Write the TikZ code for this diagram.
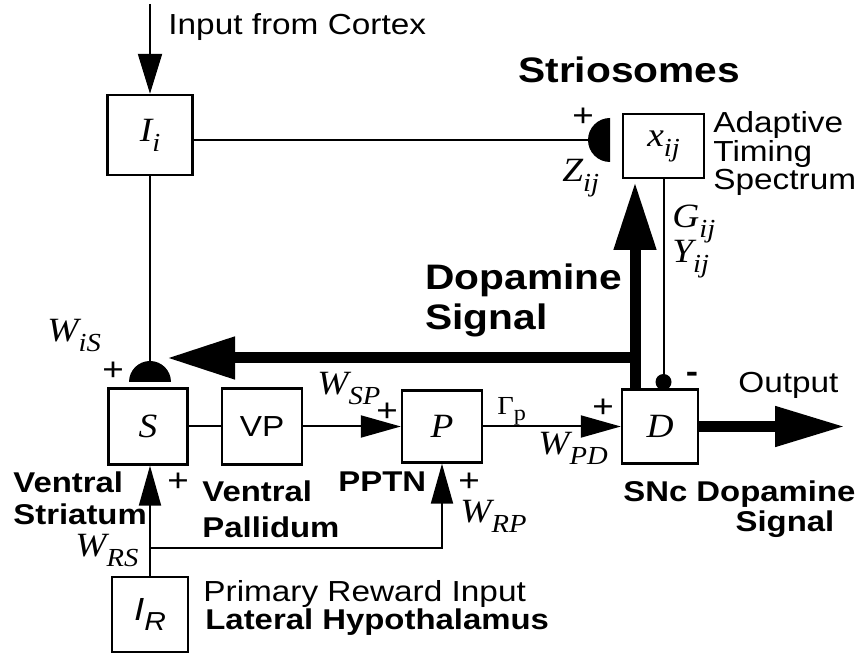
\documentclass[tikz,border=0pt]{standalone}
\usepackage{fontspec}
\setmainfont{Liberation Sans}[FakeStretch=1.15]
\newfontfamily\lsymfont{Liberation Serif}[FakeStretch=1.1]
\usetikzlibrary{arrows.meta,positioning}
\newcommand{\subs}[1]{\raisebox{-5pt}{\fontsize{13}{13}\selectfont #1}}
\tikzset{
  blk/.style   = {draw, line width=1.2pt, inner sep=0pt,
                  minimum width=40pt, minimum height=38pt,
                  font=\lsymfont\itshape\fontsize{17}{17}\selectfont},
  symb/.style  = {inner sep=0pt, anchor=base west,
                  font=\lsymfont\itshape\fontsize{17}{17}\selectfont},
  lbl/.style   = {inner sep=0pt, anchor=base west, align=left,
                  font=\fontsize{14.5}{14.25}\selectfont},
  lblb/.style  = {lbl, font=\bfseries\fontsize{14.3}{16}\selectfont},
  lblbig/.style= {lbl, font=\bfseries\fontsize{17.7}{20}\selectfont},
  sign/.style  = {inner sep=0pt, font=\fontsize{16}{16}\selectfont},
  dot/.style   = {circle, fill, minimum size=8pt, inner sep=0pt},
  %
  wire/.style  = {line width=1pt},
  flow/.style  = {-{Triangle[length=20pt,width=11pt]}, line width=1pt},
  fat/.style   = {-{Triangle[length=34pt,width=20pt]}, line width=5.5pt},
}
\begin{document}
\begin{tikzpicture}[x=0.5pt, y=-0.5pt]
  \useasboundingbox (0,0) rectangle (863,657);

  % ---------- boxes -----------------------------------------------------
  \node[blk, minimum width=42.5pt, minimum height=40pt] (Ii) at (150,135) {I\subs{i}};
  \node[blk, minimum width=40.5pt, minimum height=32pt] (xij) at (663.5,146) {x\subs{ij}};
  \node[blk, minimum width=39.5pt] (S) at (148,426.5) {S};
  \node[blk, font=\fontsize{14.5}{14.5}\selectfont] (VP) at (262,426.5) {VP};
  \node[blk, minimum height=36pt] (P) at (442,426.5) {P};
  \node[blk, minimum width=38pt, minimum height=37pt] (D) at (660,426.5) {D};
  \node[blk, minimum width=38pt, minimum height=37.5pt,
        font=\itshape\fontsize{16}{16}\selectfont] (IR) at (150,614.5) {I\subs{R}};

  % ---------- junctions ------------------------------------------------
  \coordinate (ctx)    at (150,4);
  \coordinate (zsyn)   at (610,140);
  \coordinate (ssyn)   at (150,382);
  \coordinate (dsplit) at (635,358);
  \coordinate (dtip)   at (167,358);
  \coordinate (xtip)   at (635,182);
  \coordinate (outtip) at (845,426.5);
  \coordinate (rsplit) at (150,548);
  \node[dot] (ddot) at (663.5,382) {};

  % ---------- thin connectors ------------------------------------------
  \draw[flow, -{Triangle[length=20pt,width=12pt]}] (ctx) -- (Ii.north);
  \draw[wire] (Ii.east |- zsyn) -- (zsyn);
  \fill ([yshift=11pt]zsyn) arc[start angle=90, end angle=270, radius=11pt] -- cycle;
  \draw[wire] (Ii.south) -- (ssyn);
  \fill ([xshift=10.5pt]ssyn) arc[start angle=0, end angle=180, radius=10.5pt] -- cycle;
  \draw[wire] (xij.south) -- (ddot);
  \draw[wire] (S) -- (VP);
  \draw[flow] (VP) -- (P);
  \draw[flow] (P) -- (D);
  \draw[flow] (IR.north) -- (IR.north |- S.south);
  \draw[flow] (rsplit) -| (P.south);

  % ---------- dopamine signal ------------------------------------------
  \draw[fat] (D.north -| dsplit) -- (xtip);
  \draw[fat] (dsplit) -- (dtip);
  \draw[fat, -{Triangle[length=35pt,width=19pt]}] (D) -- (outtip);

  % ---------- labels ---------------------------------------------------
  \node[lbl]    (cortex) at (168,35)  {Input from Cortex};
  \node[lblbig] (strio)  at (518,83)  {Striosomes};
  \node[lbl]    (ats)    at (713,190) {Adaptive\\Timing\\Spectrum};
  \node[lblbig] (dasig)  at (425,330) {Dopamine\\Signal};
  \node[lbl]    (outlbl) at (738,393) {Output};
  \node[lblb]   (snc)    at (623,502) {SNc Dopamine};
  \node[lblb, anchor=base] (sncsig) at (785,532) {Signal};
  \node[lblb]   (vstr)   at (13,525)  {Ventral\\Striatum};
  \node[lblb, font=\bfseries\fontsize{14.3}{18}\selectfont]
                (vpal)   at (202,538) {Ventral\\Pallidum};
  \node[lblb]   (pptn)   at (338,492) {PPTN};
  \node[lbl]    (prim)   at (203,602) {Primary Reward Input};
  \node[lblb]   (lath)   at (205,630) {Lateral Hypothalamus};

  % ---------- weights --------------------------------------------------
  \node[symb] (wis) at (47,342)  {W\subs{iS}};
  \node[symb] (wrs) at (75,557)  {W\subs{RS}};
  \node[symb] (wsp) at (317,395) {W\subs{SP}};
  \node[symb] (wpd) at (538,455) {W\subs{PD}};
  \node[symb] (wrp) at (460,523) {W\subs{RP}};
  \node[symb] (zij) at (562,182) {Z\subs{ij}};
  \node[symb] (gij) at (672,228) {G\subs{ij}};
  \node[symb] (yij) at (672,263) {Y\subs{ij}};
  \node[symb, font=\lsymfont\fontsize{13}{13}\selectfont]
              (gam) at (497,415) {Γ\raisebox{-3pt}{\fontsize{11}{11}\selectfont p}};

  % ---------- signs ----------------------------------------------------
  \node[sign] (pz)  at (583,117) {+};
  \node[sign] (ps)  at (113,371) {+};
  \node[sign] (pr)  at (178,482) {+};
  \node[sign] (pp)  at (387,412) {+};
  \node[sign] (prp) at (469,482) {+};
  \node[sign] (pd)  at (603,408) {+};
  \node[sign, font=\bfseries\fontsize{16}{16}\selectfont] (md) at (692,377) {-};

\end{tikzpicture}
\end{document}
